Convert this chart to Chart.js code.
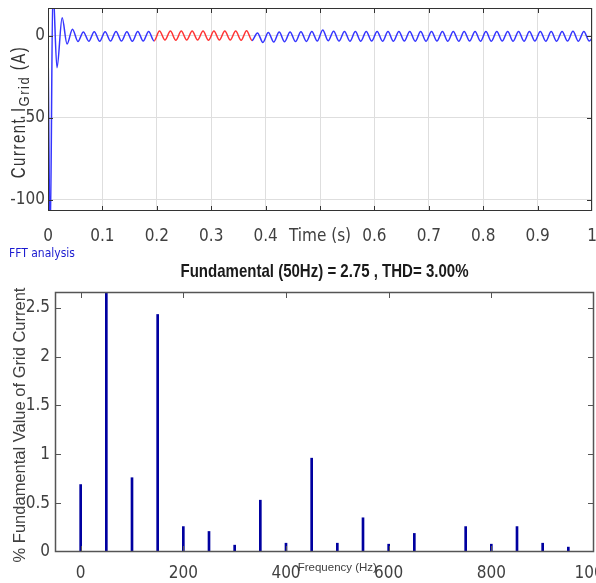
<!DOCTYPE html>
<html>
<head>
<meta charset="utf-8">
<script src="https://cdn.jsdelivr.net/npm/chart.js@4.4.1/dist/chart.umd.min.js"></script>
<style>
  body { margin: 0; background: #fff; }
  #topBox { position: absolute; left: 0; top: 0; width: 596px; height: 262px; }
  #botBox { position: absolute; left: 0; top: 262px; width: 596px; height: 321px; }
</style>
</head>
<body>
<div id="topBox"><canvas id="currentChart"></canvas></div>
<div id="botBox"><canvas id="fftChart"></canvas></div>
<script>
//----DATA: grid current vs time----
const timeTicks = [0, 0.1, 0.2, 0.3, 0.4, 0.5, 0.6, 0.7, 0.8, 0.9, 1];
const currentTicks = [-100, -50, 0];
// start-up transient (peak / trough times)
const startT = [0, 0.004, 0.009, 0.0165, 0.026, 0.035, 0.045];
const startI = [0, -125, 30, -19.5, 11, -5, 4];
// steady state: one peak or trough every half cycle (50 Hz)
const steadyT0 = 0.055, steadyDt = 0.01;
const steadyI = [
  -3.4, 2.4, -3.3, 2.5, -3.3, 2.5, -3.2, 2.6, -3.2, 2.5,
  -3.3, 2.6, -3.2, 2.6, -3.1, 2.9, -2.6, 2.9, -2.7, 2.9,
  -2.6, 3.0, -2.6, 2.9, -2.7, 2.9, -2.6, 3.0, -2.6, 2.9,
  -2.7, 3.1, -2.8, 1.8, -4.0, 2.0, -3.8, 2.3, -3.6, 2.4,
  -3.5, 2.5, -3.4, 2.6, -3.2, 3.6, -3.0, 2.8, -3.2, 2.7,
  -3.3, 2.6, -3.3, 2.7, -3.2, 2.7, -3.3, 2.6, -3.3, 2.7,
  -3.2, 2.7, -3.3, 2.6, -3.3, 2.7, -3.2, 2.6, -3.3, 2.7,
  -3.3, 2.6, -3.2, 2.7, -3.3, 2.6, -3.3, 2.7, -3.2, 2.6,
  -3.3, 2.7, -3.3, 2.6, -3.2, 2.7, -3.3, 2.6, -3.3, 2.7,
  -3.2, 2.8, -3.3, 2.7, -3.2
];
const endT = 1, endI = -1.5;
const fftWindow = [0.194, 0.376]; // part drawn in red

//----DATA: harmonic spectrum----
const harmFreq = [0, 50, 100, 150, 200, 250, 300, 350, 400, 450, 500, 550, 600, 650, 700, 750, 800, 850, 900, 950];
const harmMag  = [0.69, 2.75, 0.76, 2.43, 0.26, 0.21, 0.07, 0.53, 0.09, 0.96, 0.09, 0.35, 0.08, 0.19, 0.0, 0.26, 0.08, 0.26, 0.09, 0.05];
const freqTicks = [0, 200, 400, 600, 800, 1000];
const magTicks = [0, 0.5, 1, 1.5, 2, 2.5];
const fftTitle = 'Fundamental (50Hz) = 2.75 , THD= 3.00%';

const NARROW = "'Liberation Sans Narrow', 'Arial Narrow', 'DejaVu Sans Condensed', sans-serif";
const SANS = "'Liberation Sans', Arial, sans-serif";
const tickFont = {family: NARROW, size: 17};
const tickColor = '#404040';

const currentPts = startT.map((t, i) => ({x: t, y: startI[i]}));
steadyI.forEach((v, i) => currentPts.push({x: +(steadyT0 + i * steadyDt).toFixed(3), y: v}));
currentPts.push({x: endT, y: endI});

//----PLUGINS----
// matlab style box with inward ticks on all four sides
const boxAndTicks = {
  id: 'boxAndTicks',
  afterDatasetsDraw(chart, args, opts) {
    const {ctx, chartArea: {top, bottom, left, right}, scales: {x, y}} = chart;
    const len = opts.len;
    ctx.save();
    ctx.strokeStyle = opts.color;
    ctx.lineWidth = opts.width;
    ctx.strokeRect(left + 0.5, top + 0.5, right - left - 1, bottom - top - 1);
    ctx.lineWidth = 1;
    ctx.beginPath();
    x.ticks.forEach(t => {
      const px = Math.round(x.getPixelForValue(t.value)) + 0.5;
      if (px > left + 2 && px < right - 2) {
        ctx.moveTo(px, top); ctx.lineTo(px, top + len);
        ctx.moveTo(px, bottom); ctx.lineTo(px, bottom - len);
      }
    });
    y.ticks.forEach(t => {
      const py = Math.round(y.getPixelForValue(t.value)) + 0.5;
      if (py > top + 2 && py < bottom - 2) {
        ctx.moveTo(right, py); ctx.lineTo(right - len, py);
        ctx.moveTo(left, py); ctx.lineTo(left + len, py);
      }
    });
    ctx.stroke();
    ctx.restore();
  }
};

const currentLabels = {
  id: 'currentLabels',
  afterDraw(chart) {
    const {ctx} = chart;
    ctx.save();
    // FFT analysis link text
    ctx.fillStyle = '#1a1ad0';
    ctx.font = '12px ' + NARROW;
    ctx.textBaseline = 'middle';
    ctx.fillText('FFT analysis', 9, 254);
    // y title "Current I_Grid (A)", rotated, baseline at x=25
    const parts = [
      {t: 'Current I', font: '15px ' + SANS, thick: 1.35, dy: 0},
      {t: 'Grid', font: '13px ' + SANS, thick: 1.1, dy: 4},
      {t: ' (A)', font: '15px ' + SANS, thick: 1.35, dy: 0}
    ];
    ctx.translate(25, 112);
    ctx.rotate(-Math.PI / 2);
    ctx.fillStyle = '#333';
    ctx.letterSpacing = '1.5px';
    ctx.textBaseline = 'alphabetic';
    let total = 0;
    parts.forEach(p => { ctx.font = p.font; p.w = ctx.measureText(p.t).width; total += p.w; });
    let xs = -total / 2;
    parts.forEach(p => {
      ctx.save();
      ctx.translate(xs, p.dy);
      ctx.scale(1, p.thick);
      ctx.font = p.font;
      ctx.fillText(p.t, 0, 0);
      ctx.restore();
      xs += p.w;
    });
    ctx.restore();
  }
};

const fftLabels = {
  id: 'fftLabels',
  afterDraw(chart) {
    const {ctx, scales: {x}, chartArea: {left, right, bottom}} = chart;
    ctx.save();
    ctx.textAlign = 'center';
    ctx.textBaseline = 'middle';
    // condensed bold title over the plot
    ctx.fillStyle = '#1a1a1a';
    ctx.font = 'bold 19px ' + SANS;
    const sx = 288 / ctx.measureText(fftTitle).width;
    ctx.save();
    ctx.translate((left + right) / 2, 10);
    ctx.scale(sx, 1);
    ctx.fillText(fftTitle, 0, 0);
    ctx.restore();
    ctx.fillStyle = tickColor;
    ctx.font = '11.5px ' + SANS;
    ctx.fillText('Frequency (Hz)', x.getPixelForValue(500), bottom + 16);
    ctx.translate(20, 163);
    ctx.rotate(-Math.PI / 2);
    ctx.font = '16.5px ' + SANS;
    ctx.fillText('% Fundamental Value of Grid Current', 0, 0);
    ctx.restore();
  }
};

//----TOP CHART----
new Chart(document.getElementById('currentChart'), {
  type: 'line',
  data: {
    datasets: [{
      data: currentPts,
      borderColor: '#3535ff',
      borderWidth: 1.5,
      pointRadius: 0,
      cubicInterpolationMode: 'monotone',
      segment: {
        borderColor: c => (c.p0.parsed.x >= fftWindow[0] && c.p1.parsed.x <= fftWindow[1]) ? '#ff3535' : undefined
      }
    }]
  },
  options: {
    animation: false,
    responsive: true,
    maintainAspectRatio: false,
    layout: {padding: {top: 8, right: 4, left: 0, bottom: 0}},
    plugins: {
      legend: {display: false},
      tooltip: {enabled: false},
      boxAndTicks: {color: '#333', width: 1, len: 5}
    },
    scales: {
      x: {
        type: 'linear', min: 0, max: 1,
        afterBuildTicks: s => { s.ticks = timeTicks.map(v => ({value: v})); },
        afterFit: s => { s.height = 51; s.paddingLeft = 0; s.paddingRight = 0; },
        grid: {color: '#dedede', drawTicks: false},
        border: {display: false},
        ticks: {
          padding: 15, font: tickFont, color: tickColor, maxRotation: 0, autoSkip: false,
          callback: v => Math.abs(v - 0.5) < 1e-9 ? 'Time (s)' : String(v)
        }
      },
      y: {
        min: -107, max: 17,
        afterBuildTicks: s => { s.ticks = currentTicks.map(v => ({value: v})); },
        afterFit: s => { s.width = 48; s.paddingTop = 0; s.paddingBottom = 0; },
        grid: {color: '#dedede', drawTicks: false},
        border: {display: false},
        ticks: {padding: 3, font: tickFont, color: tickColor}
      }
    }
  },
  plugins: [boxAndTicks, currentLabels]
});

//----BOTTOM CHART----
new Chart(document.getElementById('fftChart'), {
  type: 'bar',
  data: {
    datasets: [{
      data: harmFreq.map((f, i) => ({x: f, y: harmMag[i]})),
      backgroundColor: '#0000a0',
      barThickness: 2
    }]
  },
  options: {
    animation: false,
    responsive: true,
    maintainAspectRatio: false,
    layout: {padding: {top: 30, right: 2, left: 0, bottom: 0}},
    plugins: {
      legend: {display: false},
      tooltip: {enabled: false},
      boxAndTicks: {color: '#555', width: 1.5, len: 6}
    },
    scales: {
      x: {
        type: 'linear', min: -50, max: 1000, offset: false,
        afterBuildTicks: s => { s.ticks = freqTicks.map(v => ({value: v})); },
        afterFit: s => { s.height = 31; s.paddingLeft = 0; s.paddingRight = 0; },
        grid: {display: false, drawTicks: false, offset: false},
        border: {display: false},
        ticks: {padding: 11, font: tickFont, color: tickColor, maxRotation: 0, autoSkip: false,
                callback: v => String(v)}
      },
      y: {
        min: 0, max: 2.66,
        afterBuildTicks: s => { s.ticks = magTicks.map(v => ({value: v})); },
        afterFit: s => { s.width = 55; s.paddingTop = 0; s.paddingBottom = 0; },
        grid: {display: false, drawTicks: false},
        border: {display: false},
        ticks: {padding: 5, font: tickFont, color: tickColor, callback: v => String(v)}
      }
    }
  },
  plugins: [boxAndTicks, fftLabels]
});
</script>
</body>
</html>
